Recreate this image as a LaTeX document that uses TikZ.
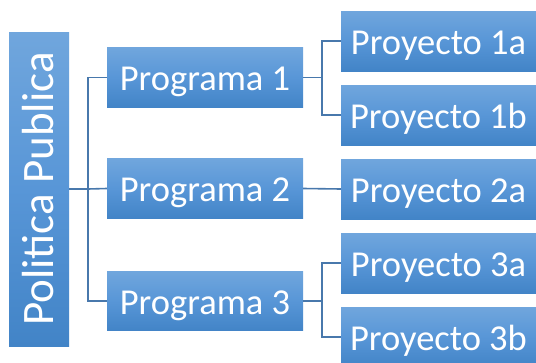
\documentclass[tikz,border=0pt]{standalone}
\usepackage{fontspec}
\setmainfont{Carlito}
\definecolor{boxtop}{RGB}{112,166,221}
\definecolor{boxmid}{RGB}{88,150,215}
\definecolor{boxbot}{RGB}{66,132,199}
\definecolor{linkc}{RGB}{72,120,172}
\tikzset{
  orgbox/.style={rectangle, inner sep=0pt, text=white, top color=boxtop, bottom color=boxbot, middle color=boxmid,
    font=\fontsize{36.5}{40}\selectfont, text height=26.3pt, text depth=0pt},
  progbox/.style={orgbox, minimum width=196pt, minimum height=59.5pt},
  projbox/.style={orgbox, minimum width=195pt, minimum height=60pt},
  link/.style={draw=linkc, line width=1.6pt}
}
\begin{document}
\begin{tikzpicture}[x=1pt, y=-1pt]
\useasboundingbox (0,0) rectangle (536,362);
\clip (0,0) rectangle (536,362);
\node[orgbox, minimum width=60pt, minimum height=314pt, text height=, text depth=, font=\fontsize{45}{48}\selectfont] (pp) at (39,189)
  {\rotatebox{90}{\raisebox{0pt}[29pt][0pt]{Politica Publica}}};
\node[progbox] (p1) at (205,77.5) {Programa 1};
\node[progbox] (p2) at (205,188.5) {Programa 2};
\node[progbox] (p3) at (205,301) {Programa 3};
\node[projbox] (p1a) at (438.5,41) {Proyecto 1a};
\node[projbox] (p1b) at (438.5,115) {Proyecto 1b};
\node[projbox] (p2a) at (438.5,189) {Proyecto 2a};
\node[projbox] (p3a) at (438.5,263) {Proyecto 3a};
\node[projbox] (p3b) at (438.5,337) {Proyecto 3b};
\coordinate (j0) at (88,189);
\coordinate (j1) at (322,77.5);
\coordinate (j3) at (322,301);
\draw[link] (pp.east) -- (j0);
\draw[link] (j0) |- (p1.west);
\draw[link] (j0) |- (p3.west);
\draw[link] (j0) -- (p2.west);
\draw[link] (p1.east) -- (j1);
\draw[link] (j1) |- (p1a.west);
\draw[link] (j1) |- (p1b.west);
\draw[link] (p2.east) -- (p2a.west);
\draw[link] (p3.east) -- (j3);
\draw[link] (j3) |- (p3a.west);
\draw[link] (j3) |- (p3b.west);
\end{tikzpicture}
\end{document}
